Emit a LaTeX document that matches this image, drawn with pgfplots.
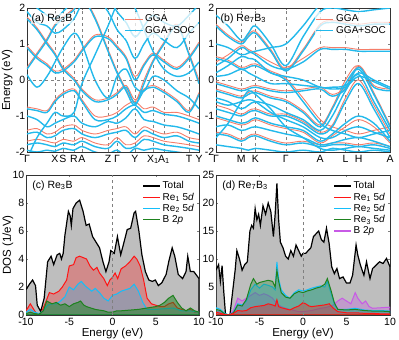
\documentclass[border=0pt]{standalone}
\usepackage{fontspec}
\setmainfont{Liberation Sans}
\usepackage{pgfplots}
\usepackage{pgfplotstable}
\pgfplotsset{compat=1.18}

\definecolor{soc}{RGB}{35,185,235}
\definecolor{gga}{RGB}{245,125,105}
\definecolor{dred}{RGB}{255,20,20}
\definecolor{dblue}{RGB}{20,190,250}
\definecolor{dgreen}{RGB}{30,130,30}
\definecolor{dpurple}{RGB}{200,90,230}
\definecolor{totfill}{RGB}{190,190,190}

% band energies, one row per band, columns = k-path positions
\pgfplotstableread{
band 0 10 20 28 36 47 55 68 81 90 99 108 117 126 137 150 162 172
a1 0.15 -0.2 0.1 0.5 0.9 1.3 1.0 0.0 -0.5 0.1 0.3 -0.2 -0.3 0.1 0.0 -0.3 -0.5 -0.8
a2 1.7 1.4 1.0 0.7 0.3 0.0 -0.3 -0.6 -0.55 -0.4 -0.2 -0.65 -0.3 -0.2 -0.35 -0.6 -0.9 -0.4
a3 -0.8 -0.85 -0.9 -0.6 -0.4 -0.3 -0.6 -1.1 -1.1 -1.0 -0.8 -0.7 -0.9 -0.85 -0.95 -1.0 -1.1 -1.2
a4 -1.0 -1.1 -1.3 -1.2 -1.1 -1.0 -1.2 -1.3 -1.15 -1.2 -1.05 -0.8 -1.1 -1.15 -1.25 -1.3 -1.4 -1.5
a5 -1.5 -1.45 -1.6 -1.55 -1.4 -1.35 -1.5 -1.6 -1.5 -1.45 -1.4 -1.6 -1.4 -1.5 -1.6 -1.55 -1.7 -1.75
a6 -1.8 -1.75 -1.8 -1.85 -1.75 -1.8 -1.7 -1.85 -1.9 -1.7 -1.9 -1.85 -1.65 -1.7 -1.8 -1.85 -1.9 -1.95
a7 -1.95 -2.0 -1.95 -1.98 -1.9 -1.95 -1.85 -2.0 -2.05 -1.95 -2.1 -1.9 -1.95 -1.9 -1.95 -2.0 -2.05 -2.1
a8 0.9 0.6 0.4 0.2 0.25 0.5 0.8 1.2 1.15 0.9 0.6 0.0 0.4 0.7 0.5 0.3 0.6 1.0
a9 1.9 1.6 1.5 1.3 1.4 1.7 2.1 2.3 1.9 1.4 1.1 0.6 1.0 1.3 1.1 0.9 1.3 1.6
a10 2.2 2.0 1.8 1.7 1.9 2.2 2.4 2.5 2.3 1.9 1.6 1.2 1.5 1.8 1.6 1.5 1.8 2.1
a11 -2.2 -1.6 -1.2 -0.9 -1.0 -0.9 -0.1 0.7 1.5 2.1 2.4 2.0 1.4 0.8 0.3 0.1 0.2 0.5
a12 0.3 0.7 1.1 1.5 1.7 1.95 2.3 1.7 0.8 0.2 -0.3 -0.7 -0.1 0.5 1.0 1.5 0.7 -0.1
g1 -0.75 -0.8 -0.85 -0.55 -0.35 -0.25 -0.55 -1.0 -1.0 -0.9 -0.7 -0.6 -0.8 -0.75 -0.9 -0.9 -1.0 -1.1
g2 -1.4 -1.35 -1.5 -1.45 -1.3 -1.25 -1.4 -1.5 -1.4 -1.35 -1.3 -1.5 -1.3 -1.4 -1.5 -1.45 -1.6 -1.65
g3 -1.7 -1.65 -1.7 -1.75 -1.65 -1.7 -1.6 -1.75 -1.8 -1.6 -1.8 -1.75 -1.55 -1.6 -1.7 -1.75 -1.8 -1.85
g4 0.35 0.75 1.15 1.55 1.75 2.0 2.35 1.75 0.85 0.25 -0.25 -0.6 0.0 0.55 1.05 1.55 0.75 0.0
g5 0.95 0.65 0.45 0.25 0.3 0.55 0.85 1.25 1.2 0.95 0.65 0.1 0.45 0.75 0.55 0.35 0.65 1.05
g6 1.75 1.45 1.05 0.75 0.35 0.05 -0.25 -0.55 -0.5 -0.35 -0.15 -0.55 -0.25 -0.15 -0.3 -0.55 -0.85 -0.35
}\rawA
\pgfplotstabletranspose[colnames from=band, input colnames to=x]\bandA\rawA

\pgfplotstableread{
band 0 12 25 32 39 54 69 86 103 115 128 141 156 172
b1 1.8 1.5 1.1 1.3 1.5 1.0 0.4 1.2 1.9 2.0 1.95 1.9 1.95 2.0
b2 1.5 1.2 1.0 1.2 1.3 0.8 0.25 0.8 1.5 1.6 1.55 1.5 1.55 1.55
b3 0.4 0.6 0.9 0.8 0.7 0.4 0.3 0.5 0.85 0.85 0.85 0.8 0.8 0.8
b4 0.2 0.4 0.65 0.6 0.55 0.2 0.1 0.0 -0.2 -0.2 -0.15 0.2 0.0 -0.2
b5 0.1 0.15 0.3 0.2 0.1 -0.1 -0.1 -0.15 -0.2 -0.25 -0.2 0.1 -0.05 -0.25
b6 -0.1 -0.2 -0.3 -0.25 -0.2 -0.3 -0.35 -0.3 -0.25 -0.45 -0.25 0.35 -0.2 -0.3
b7 -0.3 -0.4 -0.5 -0.4 -0.35 -0.5 -0.6 -0.9 -1.3 -0.8 -0.1 0.3 -0.4 -1.3
b8 -0.5 -0.6 -0.8 -0.7 -0.6 -0.7 -0.9 -1.1 -1.4 -1.0 -0.3 0.15 -0.6 -1.4
b9 -0.8 -0.9 -1.0 -0.9 -0.85 -1.0 -1.0 -1.2 -1.5 -1.3 -0.6 -0.1 -0.8 -1.6
b10 -1.0 -1.1 -1.2 -1.15 -1.05 -1.2 -1.3 -1.4 -1.7 -1.5 -1.2 -1.0 -1.2 -1.7
b11 -1.3 -1.25 -1.4 -1.35 -1.3 -1.4 -1.5 -1.6 -1.8 -1.75 -1.65 -1.6 -1.7 -1.85
b12 -1.5 -1.55 -1.7 -1.6 -1.55 -1.7 -1.8 -1.75 -1.85 -1.8 -1.8 -1.85 -1.8 -1.9
b13 -1.8 -1.85 -1.9 -1.95 -1.9 -1.95 -2.0 -1.95 -2.0 -1.9 -1.95 -2.0 -1.95 -2.0
b14 -1.6 -1.2 -0.6 -0.3 -0.4 -0.8 -1.3 -1.6 -1.9 -1.95 -1.9 -1.85 -1.9 -1.95
b15 0.6 0.5 0.3 0.35 0.4 0.2 0.0 -0.6 -1.2 -1.4 -1.5 -1.6 -1.5 -1.4
b16 1.0 0.9 0.7 0.75 0.8 0.9 1.0 1.5 2.1 2.2 2.1 2.05 2.1 2.2
b17 -0.6 -0.7 -0.6 -0.55 -0.6 -0.9 -1.1 -1.3 -1.6 -1.6 -1.4 -1.3 -1.45 -1.6
r1 0.5 0.7 0.95 0.85 0.75 0.5 0.35 0.6 0.9 0.9 0.9 0.85 0.85 0.85
r2 -0.05 -0.15 -0.25 -0.2 -0.15 -0.25 -0.3 -0.25 -0.2 -0.4 -0.2 0.4 -0.15 -0.25
r3 -0.25 -0.35 -0.45 -0.35 -0.3 -0.45 -0.55 -0.85 -1.25 -0.75 0.0 0.4 -0.35 -1.25
r4 -0.7 -0.8 -0.95 -0.85 -0.8 -0.95 -0.95 -1.15 -1.45 -1.25 -0.5 0.0 -0.7 -1.5
r5 -1.05 -1.15 -1.25 -1.2 -1.1 -1.25 -1.35 -1.45 -1.75 -1.55 -1.3 -1.1 -1.3 -1.75
r6 -1.45 -1.5 -1.65 -1.55 -1.5 -1.65 -1.75 -1.7 -1.8 -1.75 -1.75 -1.8 -1.75 -1.85
r7 1.55 1.25 1.05 1.25 1.35 0.85 0.3 0.85 1.55 1.65 1.6 1.55 1.6 1.6
r8 0.65 0.55 0.35 0.4 0.45 0.25 0.05 -0.5 -1.1 -1.3 -1.4 -1.5 -1.4 -1.3
}\rawB
\pgfplotstabletranspose[colnames from=band, input colnames to=x]\bandB\rawB

\pgfplotsset{
  every axis/.append style={
    scale only axis, tick align=inside, major tick length=2pt,
    font=\fontsize{10.5}{12}\selectfont,
    /pgf/number format/assume math mode=true,
    axis line style={black!80, line width=0.6pt},
    label style={font=\fontsize{11.5}{12}\selectfont},
    every tick label/.append style={inner sep=1.5pt},
  },
  bands/.style={
    width=172pt, height=144pt, xmin=0, xmax=172, ymin=-2, ymax=2,
    ytick={-2,-1,0,1,2}, xmajorgrids, grid style={gray, dashed, line width=0.4pt},
    xticklabel style={text height=1.6ex, text depth=0.4ex},
    legend style={at={(0.995,0.975)}, anchor=north east, draw=none, fill=white,
      fill opacity=0.75, text opacity=1, font=\fontsize{10}{11}\selectfont,
      inner sep=1pt, row sep=-1pt},
    legend cell align=left,
  },
  dos/.style={
    width=173pt, height=140pt, xmin=-10, xmax=10, ymin=0,
    xtick={-10,-5,0,5,10}, xlabel={Energy (eV)},
    xlabel style={at={(axis description cs:0.5,-0.13)}, anchor=center},
    xticklabel style={yshift=-1.5pt},
    legend style={at={(0.99,0.975)}, anchor=north east, draw=none, fill=none,
      font=\fontsize{10}{11}\selectfont, inner sep=1pt, row sep=-1.5pt},
    legend cell align=left,
    legend image code/.code={\draw[#1] (0cm,0cm) -- (0.6cm,0cm);},
  },
  socline/.style={soc, line width=1.4pt, smooth, tension=0.55, forget plot},
  ggaline/.style={gga, line width=0.9pt, smooth, tension=0.55, forget plot},
}

\begin{document}
\begin{tikzpicture}[x=1pt,y=1pt]
\useasboundingbox (0,0) rectangle (399,340);

% (a) Re3B bands
\begin{axis}[bands, at={(27pt,188pt)}, anchor=south west,
  xtick={0,28,36,47,55,81,90,108,126,137,162,172},
  xticklabels={Γ,X,S,R,A,Z,Γ,Y,X\textsubscript{1},A\textsubscript{1},T,Y},
  ylabel={Energy (eV)}, ylabel style={at={(axis description cs:-0.115,0.5)}, anchor=center}]
\pgfplotsinvokeforeach{1,...,6}{\addplot[ggaline] table[x=x, y=g#1]{\bandA};}
\pgfplotsinvokeforeach{1,...,12}{\addplot[socline] table[x=x, y=a#1]{\bandA};}
\addplot[gray, dashed, line width=0.4pt, forget plot] coordinates {(0,0) (172,0)};
\addlegendimage{gga, line width=0.9pt}\addlegendentry{GGA}
\addlegendimage{soc, line width=1.4pt}\addlegendentry{GGA+SOC}
\node[anchor=north west, fill=white, fill opacity=0.7, text opacity=1, inner sep=1pt,
  font=\fontsize{10.5}{11}\selectfont]
  at (rel axis cs:0.02,0.97) {(a) Re\textsubscript{3}B};
\end{axis}

% (b) Re7B3 bands
\begin{axis}[bands, at={(216pt,188pt)}, anchor=south west, width=174pt,
  xtick={0,25,39,69,103,128,141,172},
  xticklabels={Γ,M,K,Γ,A,L,H,A}]
\pgfplotsinvokeforeach{1,...,8}{\addplot[ggaline] table[x=x, y=r#1]{\bandB};}
\pgfplotsinvokeforeach{1,...,17}{\addplot[socline] table[x=x, y=b#1]{\bandB};}
\addplot[gray, dashed, line width=0.4pt, forget plot] coordinates {(0,0) (172,0)};
\addlegendimage{gga, line width=0.9pt}\addlegendentry{GGA}
\addlegendimage{soc, line width=1.4pt}\addlegendentry{GGA+SOC}
\node[anchor=north west, fill=white, fill opacity=0.7, text opacity=1, inner sep=1pt,
  font=\fontsize{10.5}{11}\selectfont]
  at (rel axis cs:0.02,0.97) {(b) Re\textsubscript{7}B\textsubscript{3}};
\end{axis}

% (c) Re3B DOS
\begin{axis}[dos, at={(26pt,25pt)}, anchor=south west, ymax=10, ytick={0,2,4,6,8,10},
  ylabel={DOS (1/eV)}, ylabel style={at={(axis description cs:-0.105,0.5)}, anchor=center}]
\addplot[fill=totfill, draw=black, line width=1.2pt, forget plot] coordinates {
(-10,1.8)(-9.6,2.2)(-9.24,2.5)(-8.9,2.1)(-8.7,0.7)(-8.3,0.25)(-7.9,1.2)(-7.5,3.8)(-7.1,4.2)(-6.8,3.6)(-6.4,4.3)(-6.1,4.4)(-5.9,4.0)(-5.7,4.4)(-5.5,5.7)(-5.1,7.4)(-4.9,7.1)(-4.76,6.4)(-4.57,7.6)(-4.2,8.0)(-4.0,8.1)(-3.8,8.2)(-3.4,7.4)(-3.05,6.4)(-2.7,6.5)(-2.3,5.6)(-1.9,5.2)(-1.5,4.8)(-1.1,3.8)(-0.76,3.1)(-0.4,3.8)(-0.2,4.6)(0.2,4.4)(0.57,5.6)(0.95,4.3)(1.33,5.2)(1.7,6.1)(2.1,6.2)(2.5,7.3)(2.67,7.4)(3.05,6.0)(3.4,4.3)(3.8,3.1)(4.2,2.5)(4.6,2.4)(4.95,2.5)(5.3,2.1)(5.7,2.3)(6.2,2.9)(6.5,3.8)(6.9,4.8)(7.2,4.2)(7.6,2.9)(8.1,2.6)(8.5,3.1)(8.7,4.2)(9.0,3.1)(9.4,3.1)(10,2.6)} \closedcycle;
\addplot[fill=dred, fill opacity=0.3, draw=dred, line width=1pt, forget plot] coordinates {
(-10,0.3)(-9.5,0.8)(-9.2,0.5)(-8.8,0.1)(-8.3,0.1)(-7.8,0.8)(-7.3,1.6)(-6.8,1.5)(-6.2,1.7)(-5.8,2.0)(-5.3,2.5)(-5.0,3.5)(-4.5,3.6)(-4.2,4.1)(-3.8,4.2)(-3.4,4.1)(-3.0,4.0)(-2.6,3.5)(-2.2,3.2)(-1.8,3.4)(-1.5,3.0)(-1.0,2.6)(-0.6,2.1)(-0.3,2.5)(0.0,2.7)(0.3,3.0)(0.6,2.6)(1.0,3.3)(1.5,3.5)(2.0,3.8)(2.5,4.2)(2.8,4.0)(3.2,3.5)(3.6,2.5)(4.0,1.2)(4.5,0.8)(5.0,0.7)(5.5,0.6)(6.0,0.6)(6.5,0.8)(7.0,0.9)(7.5,0.5)(8.0,0.4)(8.5,0.3)(9.0,0.4)(9.5,0.2)(10,0.2)} \closedcycle;
\addplot[fill=dblue, fill opacity=0.28, draw=dblue, line width=1pt, forget plot] coordinates {
(-10,0.2)(-9.5,0.4)(-9,0.2)(-8.5,0.1)(-8,0.3)(-7.5,0.7)(-7,0.8)(-6.5,0.8)(-6,1.0)(-5.5,1.3)(-5,2.0)(-4.5,1.8)(-4,2.2)(-3.6,2.4)(-3.2,2.1)(-2.8,1.9)(-2.4,1.7)(-2,1.9)(-1.5,1.6)(-1.0,1.2)(-0.5,1.0)(0,1.4)(0.5,1.5)(1,1.7)(1.5,1.8)(2,1.9)(2.5,2.2)(3,1.7)(3.5,0.9)(4,0.4)(5,0.4)(6,0.45)(7,0.5)(8,0.3)(9,0.3)(10,0.2)} \closedcycle;
\addplot[fill=dgreen, fill opacity=0.5, draw=dgreen, line width=1pt, forget plot] coordinates {
(-10,0.1)(-9.5,0.2)(-9,0.1)(-8.5,0.05)(-8,0.3)(-7.6,1.0)(-7,0.8)(-6.5,0.9)(-6,0.7)(-5.5,0.8)(-5,0.6)(-4.5,0.8)(-4,0.9)(-3.7,1.0)(-3.3,0.7)(-3,0.6)(-2.5,0.5)(-2,0.4)(-1.5,0.35)(-1,0.3)(-0.5,0.2)(0,0.2)(0.5,0.3)(1,0.3)(2,0.35)(3,0.4)(4,0.5)(5,0.6)(5.5,0.7)(6,0.9)(6.5,1.2)(7,1.4)(7.5,0.9)(8,0.5)(8.5,0.3)(9,0.5)(9.5,0.3)(10,0.2)} \closedcycle;
\addplot[gray, dashed, line width=0.4pt, forget plot] coordinates {(0,0) (0,10)};
\addlegendimage{black, line width=1.2pt}\addlegendentry{Total}
\addlegendimage{dred, line width=1.2pt}\addlegendentry{Re\textsubscript{1} 5\textit{d}}
\addlegendimage{dblue, line width=1.2pt}\addlegendentry{Re\textsubscript{2} 5\textit{d}}
\addlegendimage{dgreen, line width=1.2pt}\addlegendentry{B 2\textit{p}}
\node[anchor=north west, inner sep=1pt, font=\fontsize{10.5}{11}\selectfont]
  at (rel axis cs:0.03,0.97) {(c) Re\textsubscript{3}B};
\end{axis}

% (d) Re7B3 DOS
\begin{axis}[dos, at={(216pt,25pt)}, anchor=south west, width=174pt, ymax=25, ytick={0,5,10,15,20,25}]
\addplot[fill=totfill, draw=black, line width=1.2pt, forget plot] coordinates {
(-10,8.0)(-9.7,9.0)(-9.5,6.0)(-9.3,8.8)(-9.1,4.0)(-8.9,0.0)(-8.4,0.0)(-8.1,4.0)(-7.8,8.0)(-7.6,11.5)(-7.3,10.0)(-7.0,8.0)(-6.7,9.0)(-6.4,9.5)(-6.1,15.0)(-5.9,16.0)(-5.7,15.5)(-5.5,19.0)(-5.3,17.0)(-5.1,18.0)(-4.9,16.0)(-4.6,19.5)(-4.3,18.0)(-4.0,20.0)(-3.7,18.5)(-3.4,14.0)(-3.2,18.0)(-3.0,23.5)(-2.8,17.0)(-2.6,13.0)(-2.3,12.0)(-2.0,10.5)(-1.7,10.0)(-1.4,11.5)(-1.1,10.5)(-0.8,12.5)(-0.5,11.5)(-0.2,10.5)(0,11.0)(0.3,11.0)(0.6,11.5)(0.9,12.0)(1.2,14.0)(1.5,14.5)(1.8,15.0)(2.1,13.5)(2.4,13.0)(2.7,15.5)(3.0,12.8)(3.3,8.6)(3.6,7.4)(3.9,8.3)(4.2,6.5)(4.6,6.8)(5.0,5.7)(5.4,5.7)(5.7,7.1)(6.1,12.5)(6.3,10.7)(6.6,8.9)(7.0,7.1)(7.3,9.5)(7.7,6.5)(8.0,8.3)(8.4,8.9)(8.8,9.5)(9.2,9.2)(9.6,10.1)(10,8.6)} \closedcycle;
\addplot[fill=dpurple, fill opacity=0.35, draw=dpurple, line width=1pt, forget plot] coordinates {
(-10,0.8)(-9.5,0.5)(-9,0.2)(-8.5,0.0)(-8,0.8)(-7.5,3.0)(-7,2.5)(-6.5,3.0)(-6,3.5)(-5.5,4.0)(-5,3.5)(-4.5,3.8)(-4,3.5)(-3.5,3.0)(-3,2.0)(-2.5,1.5)(-2,1.2)(-1.5,1.0)(-1,0.8)(-0.5,0.6)(0,0.6)(0.5,0.7)(1,0.8)(1.5,1.0)(2,1.2)(2.5,1.3)(3,1.5)(3.5,1.8)(4,2.5)(4.5,3.0)(5,2.5)(5.5,2.0)(6,4.0)(6.3,3.0)(6.8,2.0)(7.2,2.5)(7.6,1.5)(8,1.2)(9,1.3)(10,1.4)} \closedcycle;
\addplot[fill=dblue, fill opacity=0.3, draw=dblue, line width=1pt, forget plot] coordinates {
(-10,1.3)(-9.5,1.0)(-9,0.3)(-8.5,0.0)(-8,0.5)(-7.5,2.0)(-7,1.8)(-6.5,2.5)(-6,4.5)(-5.5,5.5)(-5,4.8)(-4.5,5.5)(-4,5.3)(-3.5,5.0)(-3.2,4.5)(-3.0,9.5)(-2.8,6.5)(-2.5,4.5)(-2,3.5)(-1.5,3.0)(-1,4.0)(-0.5,4.5)(0,4.3)(0.5,4.5)(1,4.8)(1.5,5.0)(2,5.2)(2.5,5.0)(2.8,6.0)(3.2,4.0)(3.6,2.0)(4,1.0)(5,1.0)(6,1.2)(7,0.9)(8,0.8)(9,0.8)(10,0.7)} \closedcycle;
\addplot[fill=dgreen, fill opacity=0.3, draw=dgreen, line width=1pt, forget plot] coordinates {
(-10,1.0)(-9.5,0.8)(-9,0.2)(-8.5,0.0)(-8,0.4)(-7.5,1.8)(-7,1.6)(-6.5,2.8)(-6,5.5)(-5.7,6.5)(-5.3,5.5)(-5,5.8)(-4.5,6.0)(-4,6.2)(-3.5,6.0)(-3.2,5.0)(-3,8.0)(-2.8,6.0)(-2.5,4.0)(-2,3.2)(-1.5,3.0)(-1,3.8)(-0.5,4.2)(0,4.0)(0.5,4.3)(1,4.5)(1.5,4.8)(2,5.0)(2.5,5.5)(2.8,6.5)(3.2,4.5)(3.6,2.2)(4,1.0)(5,0.9)(6,1.0)(7,0.8)(8,0.7)(9,0.7)(10,0.6)} \closedcycle;
\addplot[fill=dred, fill opacity=0.3, draw=dred, line width=1pt, forget plot] coordinates {
(-10,0.5)(-9.5,0.3)(-9,0.1)(-8.5,0.0)(-8,0.3)(-7.5,0.8)(-7,0.7)(-6.5,0.8)(-6,1.3)(-5.5,1.5)(-5,1.6)(-4.5,1.7)(-4,2.0)(-3.5,1.8)(-3.2,1.6)(-3.0,2.7)(-2.8,1.5)(-2.5,1.3)(-2,1.1)(-1.5,0.9)(-1,1.3)(-0.5,1.6)(0,2.2)(0.3,2.0)(0.7,1.6)(1,1.5)(1.5,1.6)(2,1.7)(2.5,1.8)(3,2.0)(3.5,1.2)(4,0.6)(5,0.4)(6,0.4)(7,0.3)(8,0.3)(9,0.2)(10,0.2)} \closedcycle;
\addplot[gray, dashed, line width=0.4pt, forget plot] coordinates {(0,0) (0,25)};
\addlegendimage{black, line width=1.2pt}\addlegendentry{Total}
\addlegendimage{dred, line width=1.2pt}\addlegendentry{Re\textsubscript{1} 5\textit{d}}
\addlegendimage{dblue, line width=1.2pt}\addlegendentry{Re\textsubscript{2} 5\textit{d}}
\addlegendimage{dgreen, line width=1.2pt}\addlegendentry{Re\textsubscript{3} 5\textit{d}}
\addlegendimage{dpurple, line width=1.2pt}\addlegendentry{B 2\textit{p}}
\node[anchor=north west, inner sep=1pt, font=\fontsize{10.5}{11}\selectfont]
  at (rel axis cs:0.03,0.97) {(d) Re\textsubscript{7}B\textsubscript{3}};
\end{axis}
\end{tikzpicture}
\end{document}
